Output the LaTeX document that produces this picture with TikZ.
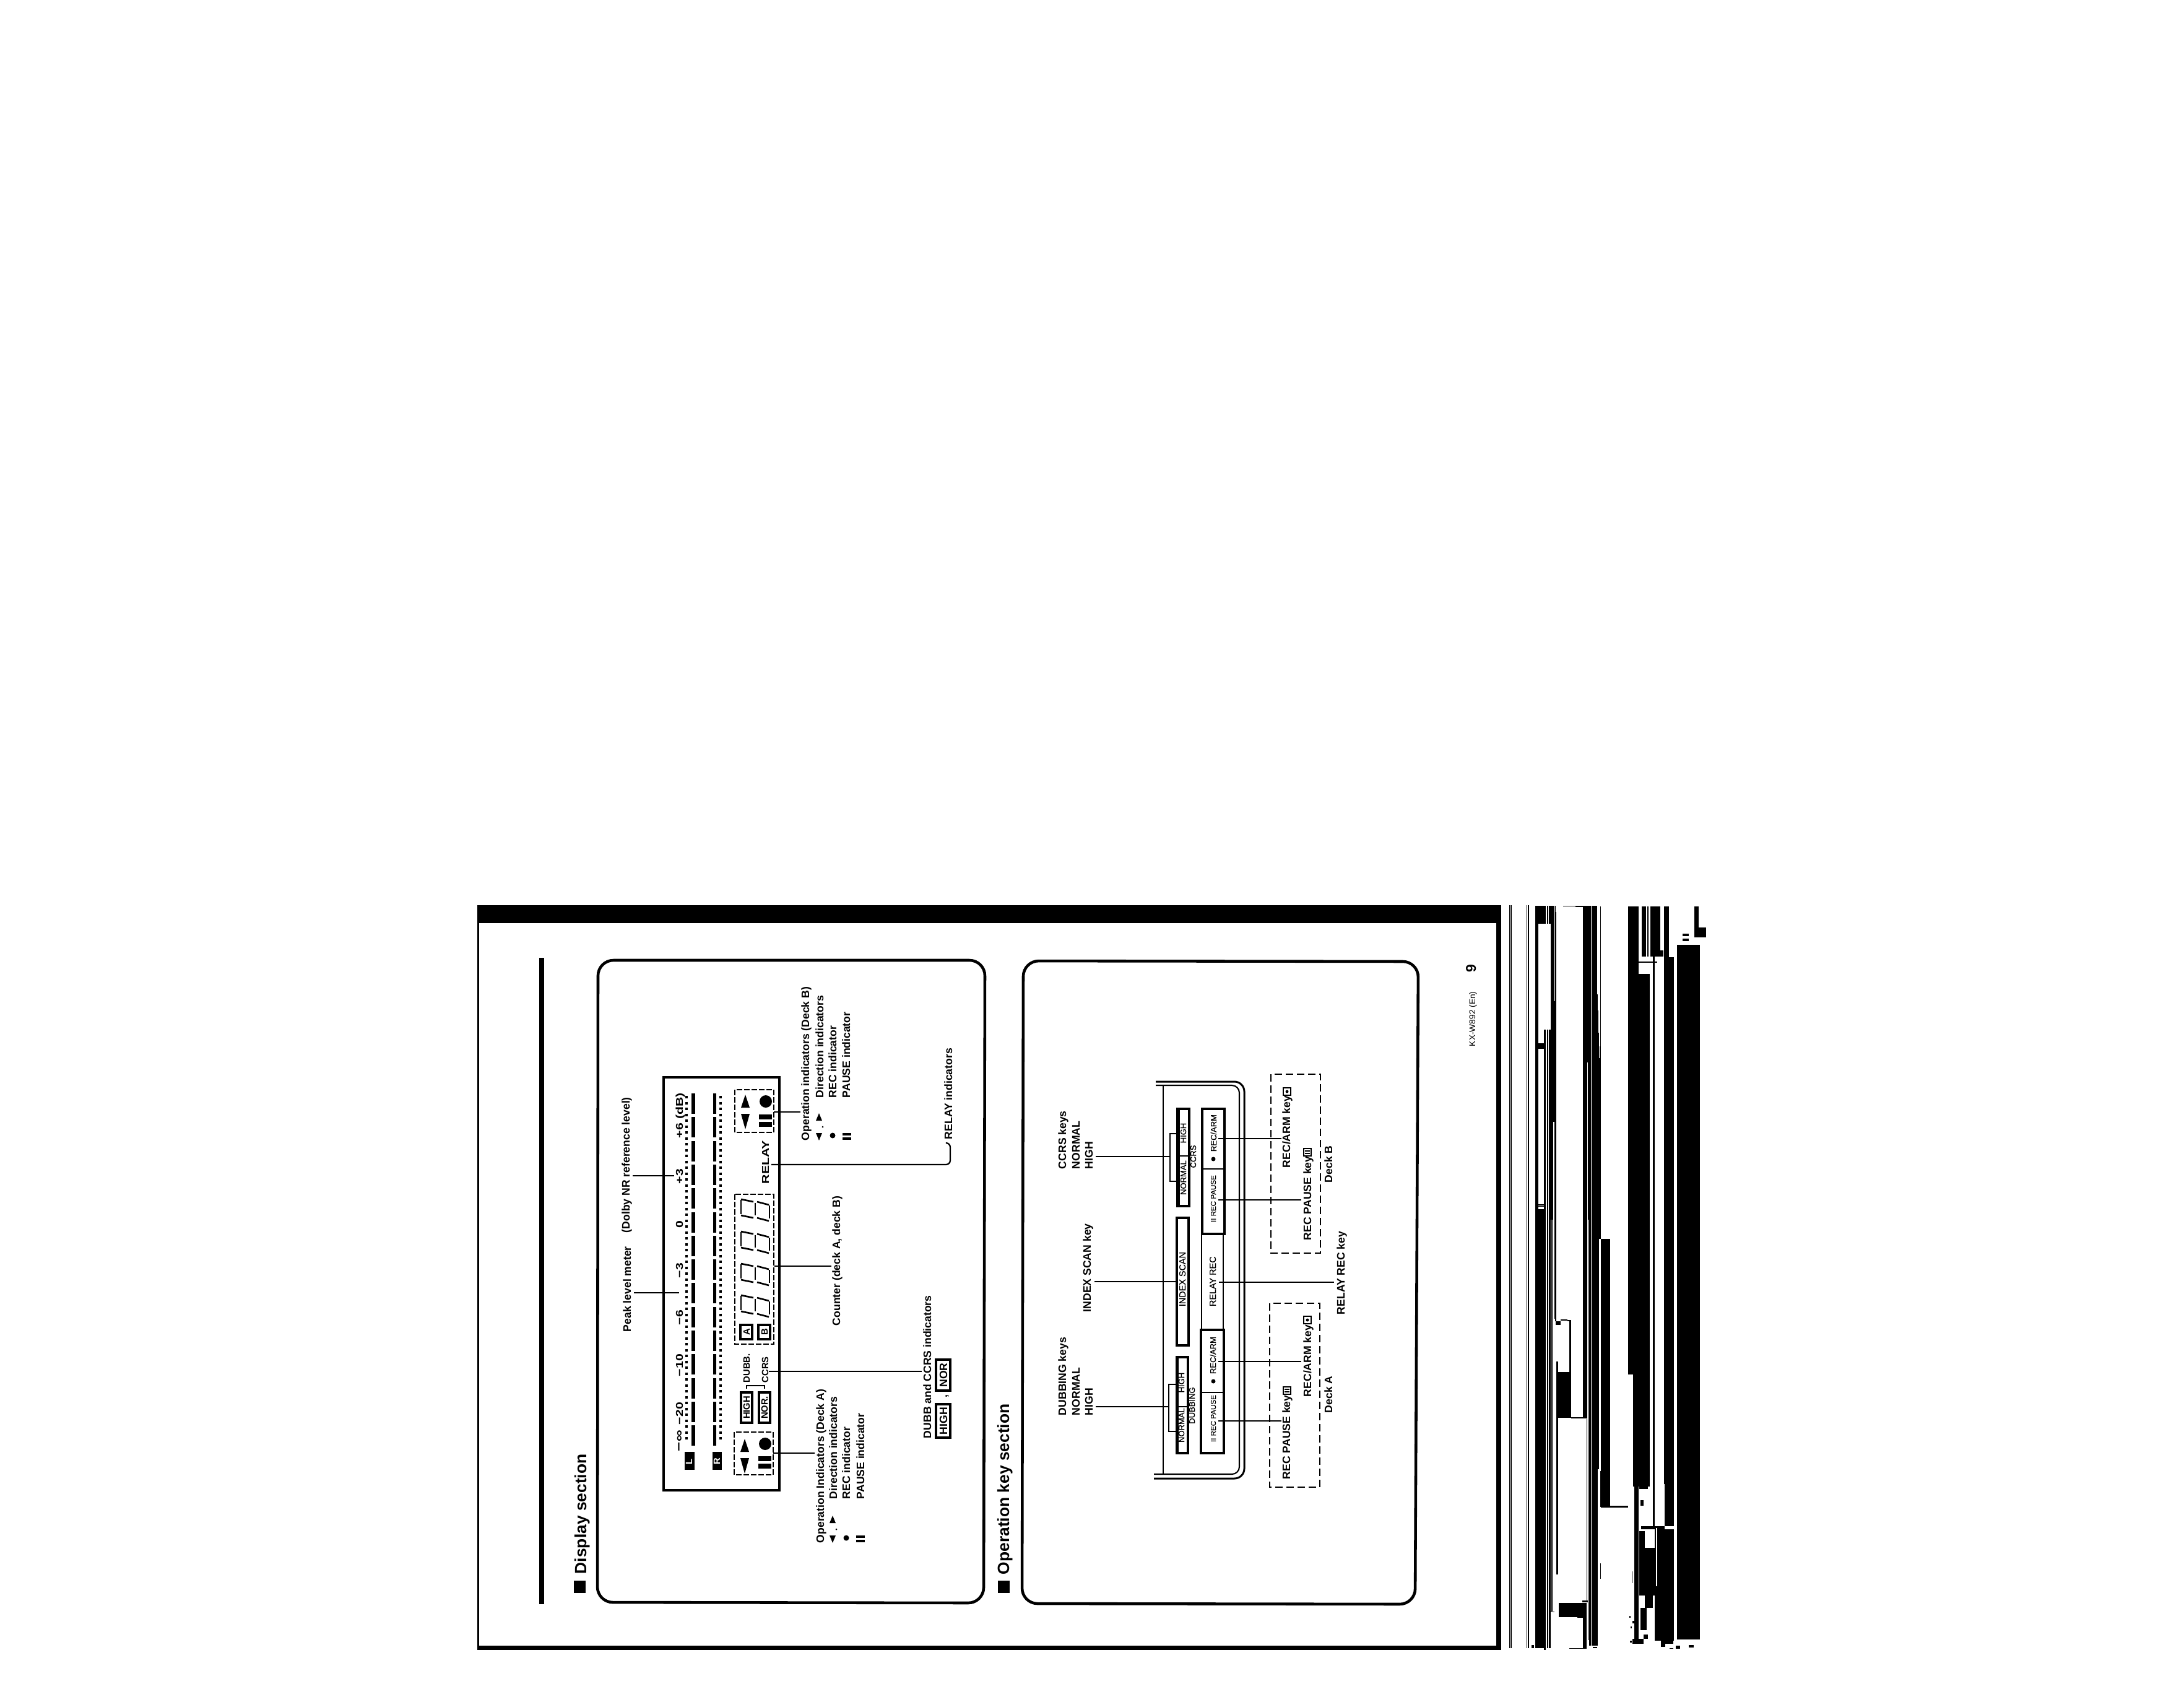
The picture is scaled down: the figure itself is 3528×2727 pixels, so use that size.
\documentclass[tikz,border=0pt]{standalone}
\usepackage{fontspec}
\setmainfont{Liberation Sans}
\newfontfamily\widefont[FakeStretch=1.33]{Liberation Sans}
\newfontfamily\medfont[FakeBold=0.5]{Liberation Sans}
\newcommand{\fs}[1]{\fontsize{#1}{#1}\selectfont}
\tikzset{
  lab/.style={rotate=90,anchor=base west,inner sep=0pt,outer sep=0pt},
  cent/.style={rotate=90,anchor=base,inner sep=0pt,outer sep=0pt},
  title/.style={font=\fs{7.5}\bfseries},
  note/.style={font=\fs{5}\bfseries},
  scale lab/.style={font=\widefont\fs{4.55}\bfseries},
  tag/.style={font=\fs{4.2}\bfseries},
  key lab/.style={font=\medfont\fs{3.7}},
  key big/.style={font=\medfont\fs{4.1}},
  key small/.style={font=\medfont\fs{3.3}},
  conn/.style={line width=0.65pt},
  panel/.style={line width=1.3pt,rounded corners=0.25cm},
  lcd/.style={line width=0.9pt},
  dashbox/.style={line width=0.75pt,dash pattern=on 0.085cm off 0.035cm},
  deckbox/.style={line width=0.55pt,dash pattern=on 0.12cm off 0.06cm},
  seg/.style={line width=0.75pt},
  keybox/.style={line width=1.1pt},
}
\newcommand{\bars}[3]{\foreach \k in {0,...,14}{\fill (#1,{1766+38.3*\k}) rectangle (#2,{1799+38.3*\k});}
  \draw[line width=1.4pt,dash pattern=on 0.04cm off 0.055cm] (#3,1770) -- (#3,2330);}
\newcommand{\digit}[1]{%
  \draw[seg] (1197,#1+1) -- (1197,#1+24);
  \draw[seg] (1220,#1+6) -- (1220,#1+26);
  \draw[seg] (1243,#1+10) -- (1243,#1+31);
  \draw[seg] (1197,#1) -- (1217,#1+4);
  \draw[seg] (1223,#1+4) -- (1242,#1+9);
  \draw[seg] (1197,#1+26) -- (1217,#1+30);
  \draw[seg] (1223,#1+30) -- (1242,#1+35);}
\newcommand{\indic}[4]{% Y base of first triangle, circle y, pause y, X shift
  \fill (#4+1197,#1) -- (#4+1211,#1) -- (#4+1204,#1-21) -- cycle;
  \fill (#4+1197,#1+10) -- (#4+1211,#1+10) -- (#4+1204,#1+35) -- cycle;
  \fill (#4+1237,#2) circle (10);
  \fill (#4+1226,#3) rectangle (#4+1247,#3+8);
  \fill (#4+1226,#3+12) rectangle (#4+1247,#3+20);}
\newcommand{\legend}[2]{% X of the 2nd line, Y of start
  \fill (#1-12,#2-32) -- (#1-2,#2-32) -- (#1-7,#2-44) -- cycle;
  \fill (#1-12,#2-12) -- (#1-2,#2-12) -- (#1-7,#2) -- cycle;
  \fill (#1-1,#2-22) circle (1.5);
  \fill (#1+15,#2-8) circle (4.5);
  \fill (#1+31,#2-12) rectangle (#1+45,#2-8);
  \fill (#1+31,#2-5) rectangle (#1+45,#2-1);}
\begin{document}
\begin{tikzpicture}[x=0.01cm,y=-0.01cm]
\useasboundingbox (0,0) rectangle (3528,2727);
\fill[white] (0,0) rectangle (3528,2727);
% page
\fill (771,1462) rectangle (2425,1491);
\fill (771,1491) rectangle (774,2662);
\fill (771,2658) rectangle (2425,2665);
\fill (2417,1491) rectangle (2425,2662);
\fill (871,1547) rectangle (879,2591);
% section titles
\fill (927,2553) rectangle (946,2573);
\node[lab,title] (t1) at (947,2542) {Display section};
\fill (1612,2553) rectangle (1631,2573);
\node[lab,title] (t2) at (1630,2543) {Operation key section};
% panels
\draw[panel] (966,1551) -- (1591,1551) -- (1589,2589) -- (965,2588) -- cycle;
\draw[panel] (1653,1552) -- (2291,1553) -- (2286,2591) -- (1651,2590) -- cycle;
% display
\draw[line width=1.1pt] (1072,1740) rectangle (1259,2407);
\bars{1117}{1123}{1109}
\bars{1152}{1157}{1164}
\node[lab,scale lab] (s1) at (1103,1838) {+6 (dB)};
\node[lab,scale lab] (s2) at (1103,1912) {+3};
\node[lab,scale lab] (s3) at (1103,1983) {0};
\node[lab,scale lab] (s4) at (1103,2064) {−3};
\node[lab,scale lab] (s5) at (1103,2140) {−6};
\node[lab,scale lab] (s6) at (1103,2223) {−10};
\node[lab,scale lab] (s7) at (1103,2301) {−20};
\node[lab,scale lab,font=\widefont\fs{5.6}\bfseries] (s8) at (1103,2344) {−∞};
\fill (1106,2345) rectangle (1122,2374);
\node[lab,tag,text=white] (bl) at (1118,2365) {L};
\fill (1151,2345) rectangle (1166,2374);
\node[lab,tag,text=white] (br) at (1163,2365) {R};
\draw[dashbox] (1186,2313) rectangle (1249,2382);
\draw[dashbox] (1187,1760) rectangle (1250,1829);
\indic{1789}{1779}{1800}{0}
\indic{2345}{2332}{2352}{-1}
\draw[dashbox] (1187,1929) rectangle (1250,2171);
\digit{1937}\digit{1989}\digit{2041}\digit{2092}
\draw[lcd] (1196,2140) rectangle (1215,2163);
\node[cent,tag] (da) at (1211,2151.5) {A};
\draw[lcd] (1225,2140) rectangle (1244,2163);
\node[cent,tag] (db) at (1240,2151.5) {B};
\draw[lcd] (1197,2249) rectangle (1215,2298);
\node[cent,tag] (ih) at (1211,2273.5) {HIGH};
\draw[lcd] (1226,2249) rectangle (1244,2298);
\node[cent,tag] (in) at (1240,2273.5) {NOR.};
\draw[conn] (1206,2243) -- (1206,2238) -- (1235,2238) -- (1235,2243);
\node[lab,tag] (idubb) at (1211,2233) {DUBB.};
\node[lab,tag] (iccrs) at (1241,2233) {CCRS};
\node[lab,scale lab] (irelay) at (1242,1912) {RELAY};
% display labels
\node[lab,note] (lpeak) at (1019,2151) {Peak level meter};
\node[lab,note] (ldolby) at (1017,1991) {(Dolby NR reference level)};
\node[lab,note] (lcount) at (1357,2141) {Counter (deck A, deck B)};
\node[lab,note] (ldubb) at (1504,2323) {DUBB and CCRS indicators};
\node[lab,note] (lrelay) at (1538,1840) {RELAY indicators};
\draw[lcd] (1512,2268) rectangle (1535,2322);
\node[cent,note] (bh) at (1530,2295) {HIGH};
\node[lab,note] (bc) at (1530,2257) {,};
\draw[lcd] (1512,2196) rectangle (1535,2246);
\node[cent,note] (bn) at (1530,2221) {NOR};
\node[lab,note] (oa0) at (1331,2492) {Operation Indicators (Deck A)};
\node[lab,note] (oa1) at (1352,2421) {Direction indicators};
\node[lab,note] (oa2) at (1373,2421) {REC indicator};
\node[lab,note] (oa3) at (1396,2421) {PAUSE indicator};
\legend{1352}{2492}
\node[lab,note] (ob0) at (1307,1842) {Operation indicators (Deck B)};
\node[lab,note] (ob1) at (1330,1773) {Direction indicators};
\node[lab,note] (ob2) at (1351,1773) {REC indicator};
\node[lab,note] (ob3) at (1373,1773) {PAUSE indicator};
\legend{1330}{1842}
% display connectors
\coordinate (a1) at (1024,2088); \coordinate (a2) at (1097,2088); \draw[conn] (a1) -- (a2);
\coordinate (b1) at (1022,1899); \coordinate (b2) at (1089,1899); \draw[conn,line width=0.45pt] (b1) -- (b2);
\coordinate (c1) at (1250,1796); \coordinate (c2) at (1293,1796); \draw[conn] (c1) -- (c2);
\coordinate (d1) at (1251,2045); \coordinate (d2) at (1343,2045); \draw[conn] (d1) -- (d2);
\coordinate (e1) at (1242,2215); \coordinate (e2) at (1489,2215); \draw[conn] (e1) -- (e2);
\coordinate (f1) at (1249,2347); \coordinate (f2) at (1316,2347); \draw[conn] (f1) -- (f2);
\coordinate (g1) at (1246,1881); \coordinate (g2) at (1535,1881); \coordinate (g3) at (1535,1846); \coordinate (g4) at (1528,1846);
\draw[conn,rounded corners=0.07cm] (g1) -- (g2) -- (g3) -- (g4);
% device
\draw[line width=0.85pt,rounded corners=0.16cm] (1867,1747) -- (2010,1747) -- (2010,2388) -- (1864,2388);
\draw[line width=0.6pt,rounded corners=0.12cm] (1867,1753) -- (2002,1753) -- (2002,2381) -- (1864,2381);
\draw[line width=0.5pt] (1879,1753) -- (1879,2381);
% ccrs keys
\draw[keybox,line width=0.9pt] (1902,1791) rectangle (1921,1948);
\fill (1901,1791) rectangle (1906,1948);
\draw[line width=0.6pt] (1902,1867) -- (1921,1867);
\node[cent,key lab] (k1) at (1916,1830) {HIGH};
\node[cent,key lab] (k2) at (1916,1902) {NORMAL};
\node[cent,key lab] (k3) at (1932,1868) {CCRS};
\draw[conn] (1901,1831) -- (1890,1831) -- (1890,1908) -- (1901,1908);
% index scan
\draw[keybox] (1901,1967) rectangle (1920,2173);
\node[cent,key big] (k4) at (1915,2066) {INDEX SCAN};
% dubbing keys
\draw[keybox,line width=0.9pt] (1901,2192) rectangle (1919,2347);
\fill (1900,2192) rectangle (1904,2347);
\draw[line width=0.6pt] (1901,2272) -- (1919,2272);
\node[cent,key lab] (k5) at (1913,2233) {HIGH};
\node[cent,key lab] (k6) at (1913,2302) {NORMAL};
\node[cent,key lab] (k7) at (1930,2270) {DUBBING};
\draw[conn] (1900,2236) -- (1888,2236) -- (1888,2312) -- (1900,2312);
% big keys
\draw[keybox,line width=1.3pt] (1942,1791) rectangle (1978,1993);
\draw[line width=0.8pt] (1942,1888) -- (1978,1888);
\draw[line width=0.8pt] (1941,1993) -- (1941,2148);
\draw[line width=0.8pt] (1976,1993) -- (1976,2148);
\draw[keybox,line width=1.3pt] (1940,2148) rectangle (1977,2347);
\draw[line width=0.8pt] (1940,2249) -- (1977,2249);
\node[lab,key lab] (m1) at (1965,1860) {REC/ARM};
\fill (1960,1872) circle (3.5);
\node[lab,key small] (m2) at (1964,1974) {II REC PAUSE};
\node[lab,key big] (m3) at (1964,2110) {RELAY REC};
\node[lab,key lab] (m4) at (1964,2219) {REC/ARM};
\fill (1960,2231) circle (3.5);
\node[lab,key small] (m5) at (1964,2329) {II REC PAUSE};
% dashed deck boxes
\draw[deckbox] (2053,1735) rectangle (2133,2024);
\draw[deckbox] (2051,2105) rectangle (2132,2402);
% operation labels
\node[lab,note] (p1) at (1722,1888) {CCRS keys};
\node[lab,note] (p2) at (1744,1888) {NORMAL};
\node[lab,note] (p3) at (1765,1888) {HIGH};
\node[lab,note] (p4) at (1762,2119) {INDEX SCAN key};
\node[lab,note] (p5) at (1722,2286) {DUBBING keys};
\node[lab,note] (p6) at (1744,2286) {NORMAL};
\node[lab,note] (p7) at (1765,2286) {HIGH};
\node[lab,note] (q1) at (2084,1886) {REC/ARM key};
\draw[line width=0.5pt] (2073,1757) rectangle (2085,1769); \fill (2079,1763) circle (2.5);
\node[lab,note] (q2) at (2118,2003) {REC PAUSE key};
\draw[line width=0.5pt] (2106,1855) rectangle (2118,1867); \fill (2108,1858) rectangle (2116,1860); \fill (2108,1862) rectangle (2116,1864);
\node[lab,note] (q3) at (2152,1910) {Deck B};
\node[lab,note] (q4) at (2172,2123) {RELAY REC key};
\node[lab,note] (q5) at (2118,2256) {REC/ARM key};
\draw[line width=0.5pt] (2106,2126) rectangle (2118,2138); \fill (2112,2132) circle (2.5);
\node[lab,note] (q6) at (2084,2389) {REC PAUSE key};
\draw[line width=0.5pt] (2073,2240) rectangle (2085,2252); \fill (2075,2243) rectangle (2083,2245); \fill (2075,2247) rectangle (2083,2249);
\node[lab,note] (q7) at (2152,2282) {Deck A};
% operation connectors
\coordinate (h1) at (1770,1868); \coordinate (h2) at (1890,1868); \draw[conn] (h1) -- (h2);
\coordinate (i1) at (1768,2070); \coordinate (i2) at (1900,2070); \draw[conn] (i1) -- (i2);
\coordinate (j1) at (1770,2272); \coordinate (j2) at (1888,2272); \draw[conn] (j1) -- (j2);
\coordinate (k1c) at (1968,1839); \coordinate (k2c) at (2070,1839); \draw[conn] (k1c) -- (k2c);
\coordinate (l1) at (1968,1938); \coordinate (l2) at (2102,1938); \draw[conn] (l1) -- (l2);
\coordinate (m1c) at (1969,2071); \coordinate (m2c) at (2155,2071); \draw[conn] (m1c) -- (m2c);
\coordinate (n1) at (1968,2199); \coordinate (n2) at (2102,2199); \draw[conn] (n1) -- (n2);
\coordinate (o1) at (1968,2295); \coordinate (o2) at (2070,2295); \draw[conn] (o1) -- (o2);
% page foot
\node[lab,font=\fs{6.5}\bfseries] (pg) at (2384,1570) {9};
\node[lab,font=\fs{3.9}] (md) at (2383,1690) {KX-W892 (En)};
% scan residue on the right edge
\fill (2438,1462) rectangle (2439.5,2662);
\fill (2441,1462) rectangle (2442,2662);
\fill (2465.7,1462) rectangle (2466.4,2662);
\fill (2467.7,1462) rectangle (2470,2662);
\begin{scope}[shift={(2470,1450)},xscale=0.3333,yscale=0.3333]
\foreach \a/\b/\c/\d in {30/40/44/1560,44/40/80/125,86/40/92/125,96/40/105/125,105/40/118/640,118/40/122/620,127/40/130/70,127/70/132/500,118/500/132/640,
 71/640/82/1560,86/640/93/1560,97/640/132/1085,97/1085/117/1560,122/1085/132/1560,44/705/72/732,44/1485/72/1489,44/1492/72/1496,44/1510/72/1560,
 261/40/282/1560,285/40/300/1560,282/40/285/798,288/1318/291/1318,303/40/330/1560,330/468/333/1560,333/545/336/1560,336/655/339/1560,342/720/348/1560,339/778/342/1560,345/42/347/720,165/40/260/43,225/43/260/46}
  \fill (\a,\b) rectangle (\c,\d);
\end{scope}
\begin{scope}[shift={(2470,1960)},xscale=0.3333,yscale=0.4591]
\foreach \a/\b/\c/\d in {30/0/80/1530,86/0/93/1530,97/0/105/1530,108/0/113/1400,122/0/127/370,127/0/132/380,128/378/153/392,153/372/185/376,185/375/204/380,195/375/204/558,133/520/140/1270,133/558/204/718,204/716/280/721,279/721/281/1365,
 261/0/282/718,285/0/288/1500,291/0/300/1520,303/0/333/1520,333/0/340/900,340/0/348/90,348/90/393/1033,345/905/348/1033,393/1027/480/1032,348/1032/480/1034,
 145/1370/280/1420,258/1362/285/1368,234/1420/280/1423,261/1415/280/1530,195/1528/280/1532,310/1525/330/1530,105/1398/113/1400,115/1400/123/1403,345/1230/348/1285,12/1518/25/1528,72/1525/80/1535}
  \fill (\a,\b) rectangle (\c,\d);
\end{scope}
\begin{scope}[shift={(2380,1440)},xscale=0.3333,yscale=0.8039]
\foreach \a/\b/\c/\d in {750/30/800/165,750/165/800/970,775/970/800/1195,800/165/855/1195,815/30/838/130,842/30/848/130,858/30/905/130,905/118/920/130,870/30/878/1190,925/30/948/132,925/132/972/1190,987/107/1097/1190,1070/30/1092/72,1070/72/1128/92,1015/85/1045/90,1015/95/1045/100,800/140/890/143}
  \fill (\a,\b) rectangle (\c,\d);
\end{scope}
\begin{scope}[shift={(2620,2380)},xscale=0.3333,yscale=0.3333]
\foreach \a/\b/\c/\d in {55/0/135/60,60/60/80/820,150/0/158/260,207/0/252/255,92/255/207/270,158/270/252/810,85/360/165/590,85/280/110/360,110/590/150/650,90/650/120/760,105/780/125/800,50/800/105/825,190/810/210/840,210/810/250/825,267/0/378/805,48/475/52/530,90/130/105/155,85/60/125/75,35/690/42/700,50/715/60/725,42/740/48/750,40/810/48/820,230/845/250/850,262/835/282/850,325/832/348/842}
  \fill (\a,\b) rectangle (\c,\d);
\fill[white] (165,265) rectangle (170,545);
\end{scope}
\end{tikzpicture}
\end{document}
